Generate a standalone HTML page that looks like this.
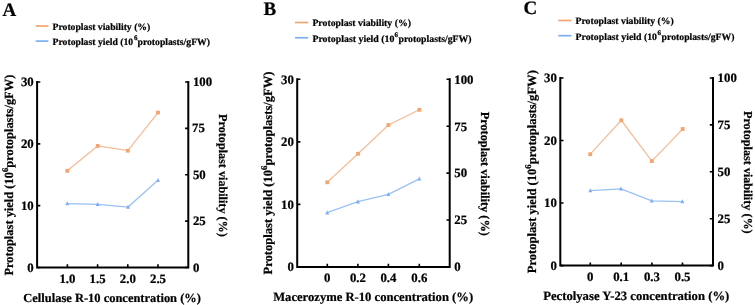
<!DOCTYPE html>
<html><head><meta charset="utf-8"><style>
html,body{margin:0;padding:0;background:#fff;}
svg{display:block;will-change:transform;}
text{font-family:"Liberation Serif",serif;font-weight:bold;fill:#000;stroke:#000;stroke-width:0.22px;text-rendering:geometricPrecision;}
</style></head><body>
<svg width="755" height="305" viewBox="0 0 755 305">
<text x="2.6" y="16.4" font-size="19">A</text>
<path d="M35.7 26H48.4" stroke="#F3A470" stroke-width="1.7"/>
<path d="M35.7 41.1H48.4" stroke="#7DB0F3" stroke-width="1.7"/>
<text x="52.5" y="29.6" font-size="9.7">Protoplast viability (%)</text>
<text x="52.5" y="45" font-size="9.7" textLength="80.7" lengthAdjust="spacingAndGlyphs">Protoplast yield (10</text>
<text x="134.07" y="40.3" font-size="7">6</text>
<text x="137.5" y="45" font-size="9.7">protoplasts/gFW)</text>
<path d="M37.1 82V267.5H188.3V82" fill="none" stroke="#000" stroke-width="2" stroke-linejoin="miter" stroke-linecap="square"/>
<text x="33.7" y="271.8" font-size="12.8" text-anchor="end">0</text>
<text x="33.7" y="209.97" font-size="12.8" text-anchor="end">10</text>
<text x="33.7" y="148.13" font-size="12.8" text-anchor="end">20</text>
<text x="33.7" y="86.3" font-size="12.8" text-anchor="end">30</text>
<text x="192.9" y="271.8" font-size="12.8">0</text>
<text x="192.9" y="225.43" font-size="12.8">25</text>
<text x="192.9" y="179.05" font-size="12.8">50</text>
<text x="192" y="132.08" font-size="12.8">75</text>
<text x="192.9" y="86.3" font-size="12.8">100</text>
<text x="67.4" y="282.8" font-size="12.8" text-anchor="middle">1.0</text>
<text x="97.6" y="282.8" font-size="12.8" text-anchor="middle">1.5</text>
<text x="127.8" y="282.8" font-size="12.8" text-anchor="middle">2.0</text>
<text x="158" y="282.8" font-size="12.8" text-anchor="middle">2.5</text>
<path d="M37.1 267.5h3.2M37.1 205.67h3.2M37.1 143.83h3.2M37.1 82h3.2M188.3 267.5h-3.2M188.3 221.12h-3.2M188.3 174.75h-3.2M188.3 128.38h-3.2M188.3 82h-3.2M67.4 267.5v-3.2M97.6 267.5v-3.2M127.8 267.5v-3.2M158 267.5v-3.2" stroke="#000" stroke-width="1.6" fill="none"/>
<text x="23.3" y="301.5" font-size="12.47">Cellulase R-10 concentration (%)</text>
<text transform="translate(12.65 275.52) rotate(-90)" font-size="12.45">Protoplast yield (10<tspan font-size="8.67" dy="-4.98">6</tspan><tspan dy="4.98">protoplasts/gFW)</tspan></text>
<text transform="translate(219.1 114.08) rotate(90)" font-size="12.16">Protoplast viability (%)</text>
<polyline points="67.3,170.8 97.7,145.9 127.8,150.7 158,112.6" fill="none" stroke="#F6BC96" stroke-width="1.25"/>
<rect x="65.4" y="168.9" width="3.8" height="3.8" fill="#F3A470"/>
<rect x="95.8" y="144" width="3.8" height="3.8" fill="#F3A470"/>
<rect x="125.9" y="148.8" width="3.8" height="3.8" fill="#F3A470"/>
<rect x="156.1" y="110.7" width="3.8" height="3.8" fill="#F3A470"/>
<polyline points="67.3,203.6 97.6,204.3 128,207 158,180.3" fill="none" stroke="#98C1F6" stroke-width="1.25"/>
<path d="M67.3 201.2L69.3 205.3H65.3Z" fill="#7DB0F3"/>
<path d="M97.6 201.9L99.6 206H95.6Z" fill="#7DB0F3"/>
<path d="M128 204.6L130 208.7H126Z" fill="#7DB0F3"/>
<path d="M158 177.9L160 182H156Z" fill="#7DB0F3"/>
<text x="263.6" y="14.6" font-size="19">B</text>
<path d="M295 22.5H308.2" stroke="#F3A470" stroke-width="1.7"/>
<path d="M295 37.75H308.2" stroke="#7DB0F3" stroke-width="1.7"/>
<text x="312.4" y="26.1" font-size="9.78">Protoplast viability (%)</text>
<text x="312.4" y="41.65" font-size="9.78" textLength="82" lengthAdjust="spacingAndGlyphs">Protoplast yield (10</text>
<text x="394.57" y="36.95" font-size="7">6</text>
<text x="398.5" y="41.65" font-size="9.78">protoplasts/gFW)</text>
<path d="M297.2 79.3V266.9H449.7V79.3" fill="none" stroke="#000" stroke-width="2" stroke-linejoin="miter" stroke-linecap="square"/>
<text x="293.8" y="271.2" font-size="12.8" text-anchor="end">0</text>
<text x="293.8" y="208.67" font-size="12.8" text-anchor="end">10</text>
<text x="293.8" y="146.13" font-size="12.8" text-anchor="end">20</text>
<text x="293.8" y="83.6" font-size="12.8" text-anchor="end">30</text>
<text x="454.3" y="271.2" font-size="12.8">0</text>
<text x="454.3" y="224.3" font-size="12.8">25</text>
<text x="454.3" y="177.4" font-size="12.8">50</text>
<text x="454.3" y="130.5" font-size="12.8">75</text>
<text x="454.3" y="83.6" font-size="12.8">100</text>
<text x="327.3" y="282.2" font-size="12.8" text-anchor="middle">0</text>
<text x="357.9" y="282.2" font-size="12.8" text-anchor="middle">0.2</text>
<text x="388.4" y="282.2" font-size="12.8" text-anchor="middle">0.4</text>
<text x="419.3" y="282.2" font-size="12.8" text-anchor="middle">0.6</text>
<path d="M297.2 266.9h3.2M297.2 204.37h3.2M297.2 141.83h3.2M297.2 79.3h3.2M449.7 266.9h-3.2M449.7 220h-3.2M449.7 173.1h-3.2M449.7 126.2h-3.2M449.7 79.3h-3.2M327.3 266.9v-3.2M357.9 266.9v-3.2M388.4 266.9v-3.2M419.3 266.9v-3.2" stroke="#000" stroke-width="1.6" fill="none"/>
<text x="273.17" y="301.4" font-size="12.64">Macerozyme R-10 concentration (%)</text>
<text transform="translate(272.45 274.53) rotate(-90)" font-size="12.58">Protoplast yield (10<tspan font-size="8.75" dy="-5.03">6</tspan><tspan dy="5.03">protoplasts/gFW)</tspan></text>
<text transform="translate(481.45 111.68) rotate(90)" font-size="12.3">Protoplast viability (%)</text>
<polyline points="327.3,182.3 358,153.8 388.4,125 419.3,109.8" fill="none" stroke="#F6BC96" stroke-width="1.25"/>
<rect x="325.4" y="180.4" width="3.8" height="3.8" fill="#F3A470"/>
<rect x="356.1" y="151.9" width="3.8" height="3.8" fill="#F3A470"/>
<rect x="386.5" y="123.1" width="3.8" height="3.8" fill="#F3A470"/>
<rect x="417.4" y="107.9" width="3.8" height="3.8" fill="#F3A470"/>
<polyline points="327.2,212.7 357.9,201.7 388.4,194.4 419.3,178.9" fill="none" stroke="#98C1F6" stroke-width="1.25"/>
<path d="M327.2 210.3L329.2 214.4H325.2Z" fill="#7DB0F3"/>
<path d="M357.9 199.3L359.9 203.4H355.9Z" fill="#7DB0F3"/>
<path d="M388.4 192L390.4 196.1H386.4Z" fill="#7DB0F3"/>
<path d="M419.3 176.5L421.3 180.6H417.3Z" fill="#7DB0F3"/>
<text x="523.6" y="13.65" font-size="19">C</text>
<path d="M558.3 20.5H571.4" stroke="#F3A470" stroke-width="1.7"/>
<path d="M558.3 35.7H571.4" stroke="#7DB0F3" stroke-width="1.7"/>
<text x="575.5" y="24.1" font-size="9.74">Protoplast viability (%)</text>
<text x="575.5" y="39.6" font-size="9.74" textLength="81.5" lengthAdjust="spacingAndGlyphs">Protoplast yield (10</text>
<text x="657.58" y="34.9" font-size="7">6</text>
<text x="661.6" y="39.6" font-size="9.74">protoplasts/gFW)</text>
<path d="M560.3 78V265.6H713V78" fill="none" stroke="#000" stroke-width="2" stroke-linejoin="miter" stroke-linecap="square"/>
<text x="556.9" y="269.9" font-size="12.8" text-anchor="end">0</text>
<text x="556.9" y="207.37" font-size="12.8" text-anchor="end">10</text>
<text x="556.9" y="144.83" font-size="12.8" text-anchor="end">20</text>
<text x="556.9" y="82.3" font-size="12.8" text-anchor="end">30</text>
<text x="717.6" y="269.9" font-size="12.8">0</text>
<text x="717.6" y="223" font-size="12.8">25</text>
<text x="717.6" y="176.1" font-size="12.8">50</text>
<text x="717.6" y="129.2" font-size="12.8">75</text>
<text x="717.6" y="82.3" font-size="12.8">100</text>
<text x="590.3" y="280.9" font-size="12.8" text-anchor="middle">0</text>
<text x="621.2" y="280.9" font-size="12.8" text-anchor="middle">0.1</text>
<text x="651.9" y="280.9" font-size="12.8" text-anchor="middle">0.3</text>
<text x="682.5" y="280.9" font-size="12.8" text-anchor="middle">0.5</text>
<path d="M560.3 265.6h3.2M560.3 203.07h3.2M560.3 140.53h3.2M560.3 78h3.2M713 265.6h-3.2M713 218.7h-3.2M713 171.8h-3.2M713 124.9h-3.2M713 78h-3.2M590.3 265.6v-3.2M621.2 265.6v-3.2M651.9 265.6v-3.2M682.5 265.6v-3.2" stroke="#000" stroke-width="1.6" fill="none"/>
<text x="543.17" y="299.8" font-size="12.69">Pectolyase Y-23 concentration (%)</text>
<text transform="translate(535.65 273.23) rotate(-90)" font-size="12.58">Protoplast yield (10<tspan font-size="8.76" dy="-5.03">6</tspan><tspan dy="5.03">protoplasts/gFW)</tspan></text>
<text transform="translate(744 110.98) rotate(90)" font-size="12.17">Protoplast viability (%)</text>
<polyline points="590.2,154.2 621.3,120.3 651.8,161.1 682.7,129" fill="none" stroke="#F6BC96" stroke-width="1.25"/>
<rect x="588.3" y="152.3" width="3.8" height="3.8" fill="#F3A470"/>
<rect x="619.4" y="118.4" width="3.8" height="3.8" fill="#F3A470"/>
<rect x="649.9" y="159.2" width="3.8" height="3.8" fill="#F3A470"/>
<rect x="680.8" y="127.1" width="3.8" height="3.8" fill="#F3A470"/>
<polyline points="590.3,190.6 621,188.9 651.8,200.9 682.4,201.6" fill="none" stroke="#98C1F6" stroke-width="1.25"/>
<path d="M590.3 188.2L592.3 192.3H588.3Z" fill="#7DB0F3"/>
<path d="M621 186.5L623 190.6H619Z" fill="#7DB0F3"/>
<path d="M651.8 198.5L653.8 202.6H649.8Z" fill="#7DB0F3"/>
<path d="M682.4 199.2L684.4 203.3H680.4Z" fill="#7DB0F3"/>
</svg>
</body></html>
